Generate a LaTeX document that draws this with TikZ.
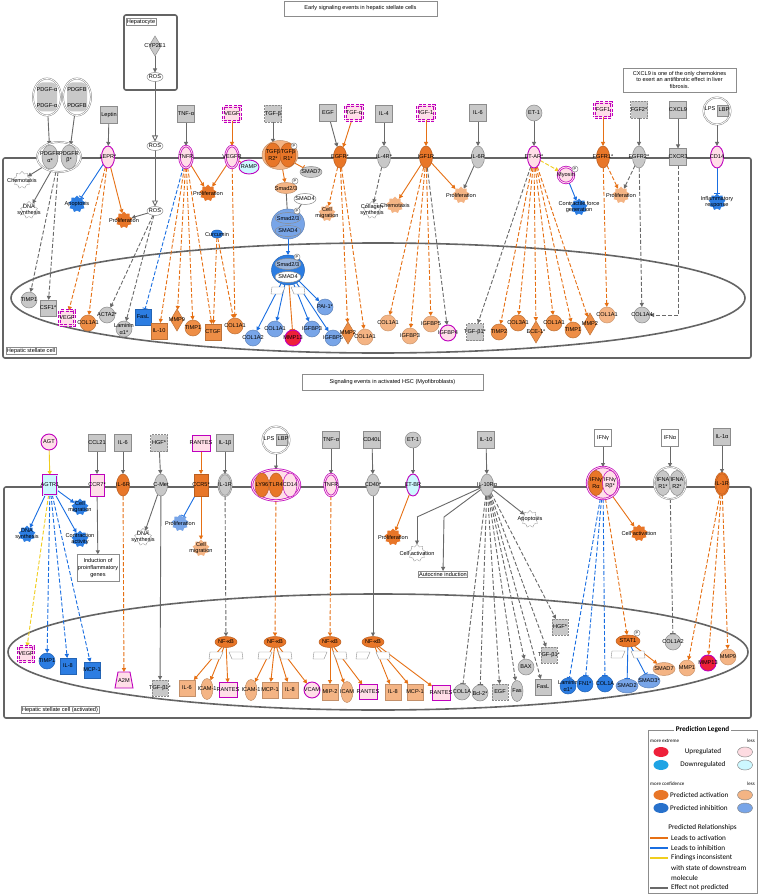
\documentclass[tikz,border=0pt]{standalone}
\usepackage{fontspec}
\setmainfont{Liberation Sans}
\newfontfamily\legf{Carlito}
\usetikzlibrary{shapes.geometric,arrows.meta}
\definecolor{grayF}{RGB}{200,200,200}
\definecolor{grayD}{RGB}{140,140,140}
\definecolor{orD}{RGB}{232,118,40}
\definecolor{orM}{RGB}{238,142,70}
\definecolor{orL}{RGB}{244,180,132}
\definecolor{blD}{RGB}{44,125,226}
\definecolor{blL}{RGB}{120,165,232}
\definecolor{redU}{RGB}{238,32,58}
\definecolor{mag}{RGB}{190,0,190}
\definecolor{pinkF}{RGB}{255,222,232}
\definecolor{cyanF}{RGB}{205,248,255}
\definecolor{eOr}{RGB}{230,112,20}
\definecolor{eBl}{RGB}{25,110,225}
\definecolor{eYe}{RGB}{240,205,30}
\definecolor{eGr}{RGB}{105,105,105}
\definecolor{memb}{RGB}{100,100,100}
\pgfdeclarelayer{bg}\pgfdeclarelayer{edges}\pgfsetlayers{bg,edges,main}
\newcommand\mynd[4]{\node[#1] (#2) at (#3) {}; \node[lbl] at (#2.center) {#4};}
\newcommand\pbadge[1]{\node[pbd] at (#1) {P};}
\newcommand\txfan[1]{\begin{scope}[shift={(#1)}]\draw[fanst] (-16,-3) -- (-3,-3) -- (-6,4) -- (-17,4) -- cycle; \draw[fanst] (16,-3) -- (3,-3) -- (6,4) -- (17,4) -- cycle;\end{scope}}
\tikzset{
 lbl/.style={font=\fontsize{5.6}{6.2}\selectfont, inner sep=0pt, align=center, text=black},
 sh/.style={inner sep=0pt, outer sep=0pt, line width=0.5pt},
 gs/.style={sh, rectangle, draw=grayD, fill=grayF, minimum width=17, minimum height=17},
 gsd/.style={gs, dash pattern=on 2pt off 1pt},
 ws/.style={gs, fill=white},
 ms/.style={sh, rectangle, draw=mag, fill=pinkF, line width=0.9pt, minimum width=17, minimum height=15},
 msd/.style={ms, dash pattern=on 3pt off 1.5pt, double=pinkF, double distance=1pt, line width=0.6pt},
 rc/.style={sh, ellipse, minimum width=13, minimum height=22},
 rg/.style={rc, draw=grayD, fill=grayF},
 rgg/.style={rg, double=grayF, double distance=0.8pt},
 ro/.style={rc, draw=orD!80!black, fill=orD},
 roo/.style={ro, double=orD, double distance=0.8pt},
 rm/.style={rc, draw=mag, fill=pinkF, line width=0.9pt},
 rmm/.style={rc, draw=mag, fill=pinkF, line width=0.7pt, double=pinkF, double distance=0.9pt},
 rmc/.style={rm, fill=cyanF},
 ci/.style={sh, circle, minimum size=16},
 cg/.style={ci, draw=grayD, fill=grayF},
 co/.style={ci, draw=orM!80!black, fill=orM},
 cl/.style={ci, draw=orL!85!black, fill=orL},
 cb/.style={ci, draw=blD!80!black, fill=blD},
 cbl/.style={ci, draw=blL!80!black, fill=blL},
 cr/.style={ci, draw=mag, line width=0.9pt, fill=redU},
 cmg/.style={ci, draw=mag, line width=0.9pt, fill=pinkF},
 cmm/.style={cmg, double=pinkF, double distance=0.9pt, line width=0.7pt},
 sq/.style={sh, rectangle, minimum size=16},
 sqo/.style={sq, draw=orM!80!black, fill=orM},
 sqol/.style={sq, draw=orL!80!black, fill=orL},
 sqb/.style={sq, draw=blD!80!black, fill=blD},
 dio/.style={sh, diamond, minimum width=13, minimum height=22, draw=orM!80!black, fill=orM},
 dg/.style={sh, diamond, minimum width=12, minimum height=20, draw=grayD, fill=grayF},
 el/.style={sh, ellipse, minimum width=22, minimum height=11},
 eg/.style={el, draw=grayD, fill=grayF},
 ew/.style={el, draw=grayD, fill=white},
 eo/.style={el, draw=orD!80!black, fill=orD},
 eol/.style={el, draw=orL!80!black, fill=orL},
 ebl/.style={el, draw=blL!80!black, fill=blL},
 gr/.style={sh, star, star points=9, star point ratio=1.3, minimum size=17},
 gw/.style={gr, draw=grayD, fill=white, dash pattern=on 1pt off 0.6pt},
 gb/.style={gr, fill=blD},
 gbl/.style={gr, fill=blL},
 go/.style={gr, fill=orD},
 gol/.style={gr, fill=orL},
 pbd/.style={sh, circle, draw=grayD, fill=white, minimum size=6, font=\fontsize{4}{4}\selectfont},
 boxl/.style={draw=grayD, fill=white, line width=0.4pt, inner sep=1.5pt, font=\fontsize{5.6}{6.6}\selectfont, align=center},
 membr/.style={draw=memb, line width=1.6pt},
 fanst/.style={draw=grayD, line width=0.4pt, fill=white},
 tipA/.style={-{Triangle[length=4pt,width=4pt]}},
 tipI/.style={-{Bar[width=5.5pt]}},
 lnk/.style={line width=0.9pt},
 dsh/.style={dash pattern=on 4pt off 2pt},
 oa/.style={lnk, eOr, tipA}, oad/.style={oa, dsh}, oi/.style={lnk, eOr, tipI},
 ba/.style={lnk, eBl, tipA}, bad/.style={ba, dsh}, bi/.style={lnk, eBl, tipI}, bid/.style={bi, dsh},
 ga/.style={lnk, eGr, tipA}, gad/.style={ga, dsh}, gi/.style={lnk, eGr, tipI}, gid/.style={gi, dsh},
 ya/.style={lnk, eYe, tipA}, yad/.style={ya, dsh},
 gl/.style={lnk, eGr},
 legt/.style={font=\legf\fontsize{7.2}{8}\selectfont, inner sep=0pt},
 legs/.style={font=\legf\fontsize{5}{6}\selectfont, inner sep=0pt},
}
\begin{document}
\begin{tikzpicture}[x=1pt,y=-1pt]
\useasboundingbox (0,0) rectangle (760,896);
\begin{pgfonlayer}{bg}
\fill[white] (0,0) rectangle (760,896);
\draw[membr, rounded corners=2pt] (3,158) rectangle (751,358);
\draw[membr] (378,298) ellipse [x radius=367pt, y radius=55pt];
\draw[membr, rounded corners=2pt] (124,15) rectangle (177,90);
\draw[membr, rounded corners=2pt] (4,487) rectangle (751,718);
\draw[membr] (378,652) ellipse [x radius=370pt, y radius=58pt];
\end{pgfonlayer}
% ---------- titles and notes
\node[boxl, minimum width=153, minimum height=15] (t1) at (360.5,8.5) {Early signaling events in hepatic stellate cells};
\node[boxl, minimum width=181, minimum height=16] (t2) at (392.5,382.5) {Signaling events in activated HSC (Myofibroblasts)};
\node[boxl, minimum width=113, minimum height=24, font=\fontsize{5.6}{6.4}\selectfont] (note) at (679.5,80) {CXCL9 is one of the only chemokines\\to exert an antifibrotic effect in liver\\fibrosis.};
\node[boxl, inner sep=1pt] (hepl) at (141,22) {Hepatocyte};
\node[boxl, inner sep=1pt] (hscl) at (31,351) {Hepatic stellate cell};
\node[boxl, inner sep=1pt] (hscl2) at (60,710) {Hepatic stellate cell (activated)};
% ---------- top panel: ligands
\mynd{dg}{cyp}{155,46}{CYP2E1}
\mynd{ew, minimum width=16, minimum height=9}{rosA}{155,77}{ROS}
\mynd{ew, minimum width=16, minimum height=9}{rosB}{155,146}{ROS}
\mynd{ew, minimum width=16, minimum height=9}{rosC}{155,211}{ROS}
\node[sh, ellipse, draw=grayD, double=white, double distance=0.8pt, fill=white, minimum width=28, minimum height=37] (pdgfa) at (47,97) {};
\node[sh, rectangle, rounded corners=5pt, fill=grayF, minimum width=20, minimum height=29] (pdgfai) at (47,97) {};
\node[lbl] at (47,90) {PDGF-α}; \node[lbl] at (47,106) {PDGF-α};
\node[sh, ellipse, draw=grayD, double=white, double distance=0.8pt, fill=white, minimum width=28, minimum height=37] (pdgfb) at (77,97) {};
\node[sh, rectangle, rounded corners=5pt, fill=grayF, minimum width=20, minimum height=29] (pdgfbi) at (77,97) {};
\node[lbl] at (77,90) {PDGFB}; \node[lbl] at (77,106) {PDGFB};
\mynd{gs}{leptin}{109,115}{Leptin}
\mynd{gs}{tnfa}{186,114}{TNF-α}
\mynd{msd}{vegf}{232,114}{VEGF}
\mynd{gsd}{tgfb}{273,114}{TGF-β}
\mynd{gs}{egf}{328,113}{EGF}
\mynd{msd}{tgfa}{354,113}{TGF-α}
\mynd{gs}{il4}{384,114}{IL-4}
\mynd{msd}{igf1}{426,113}{IGF-1}
\mynd{gs}{il6}{478,113}{IL-6}
\mynd{cg}{et1}{534,113}{ET-1}
\mynd{msd}{fgf1}{603,110}{FGF1}
\mynd{gsd}{fgf2}{639,110}{FGF2*}
\mynd{gs}{cxcl9}{678,110}{CXCL9}
\node[sh, circle, draw=grayD, double=white, double distance=0.8pt, fill=white, minimum size=27] (lps1) at (717,111) {};
\node[sh, rectangle, draw=grayD, fill=grayF, minimum size=11] (lbp1) at (723,111) {};
\node[lbl] at (710,109) {LPS}; \node[lbl] at (724,110) {LBP};
% ---------- top panel: membrane
\node[sh, ellipse, draw=grayD, double=white, double distance=0.8pt, fill=white, minimum width=44, minimum height=30] (pdgfr) at (59,157) {};
\mynd{rg, minimum width=16, minimum height=24}{pdgfra}{50,157}{PDGFR\\α*}
\mynd{rg, minimum width=16, minimum height=24}{pdgfrb}{69,157}{PDGFR\\β*}
\mynd{rm}{lepr}{108,157}{LEPR*}
\mynd{rmm}{tnfr}{186,157}{TNFR}
\mynd{rmm}{vegfr}{232,157}{VEGFR}
\mynd{rmc, minimum width=20, minimum height=14}{ramp}{249,167}{RAMP}
\node[sh, ellipse, fill=orL, draw=orL!80!black, minimum width=36, minimum height=29] (tgfbr) at (280,155) {};
\mynd{ro, minimum width=16, minimum height=24}{tgfbr2}{273,155}{TGFβ\\R2*}
\mynd{ro, minimum width=16, minimum height=24}{tgfbr1}{288,155}{TGFβ\\R1*}
\pbadge{294,146}
\mynd{eg}{smad7a}{311,172}{SMAD7}
\mynd{eol}{smad23a}{286,188}{Smad2/3}
\pbadge{295,181}
\mynd{ew}{smad4a}{305,199}{SMAD4}
\mynd{ro}{egfr}{340,157}{EGFR*}
\mynd{rg}{il4r}{384,157}{IL-4R*}
\mynd{ro}{igf1r}{426,157}{IGF1R}
\mynd{rg}{il6r}{478,157}{IL-6R}
\mynd{rm}{etar}{534,157}{ET-AR*}
\mynd{cmm}{myosin}{566,175}{Myosin}
\pbadge{575,169}
\mynd{ro}{fgfr1}{603,157}{FGFR1*}
\mynd{rg}{fgfr2}{639,157}{FGFR2*}
\mynd{gs}{cxcr3}{678,157}{CXCR3}
\mynd{rm}{cd14}{717,157}{CD14}
% ---------- top panel: cytoplasm
\mynd{gw}{chemo1}{22,180}{Chemotaxis}
\mynd{gw}{dna1}{29,210}{DNA\\synthesis}
\mynd{gb}{apop1}{77,204}{Apoptosis}
\mynd{go}{prol1}{124,220}{Proliferation}
\mynd{go}{prol2}{208,193}{Proliferation}
\mynd{gol}{cmig1}{327,213}{Cell\\migration}
\mynd{gw}{coll1}{372,210}{Collagen\\synthesis}
\mynd{gol}{chemo2}{395,205}{Chemotaxis}
\mynd{gol}{prol3}{461,195}{Proliferation}
\mynd{gb}{contr}{579,207}{Contractile force\\generation}
\mynd{gol}{prol4}{621,195}{Proliferation}
\mynd{gb}{inflam}{717,202}{Inflammatory\\response}
\mynd{sh, ellipse, fill=blD, draw=blD!80!black, minimum width=12, minimum height=8}{curc}{217,234}{Curcumin}
\node[sh, ellipse, fill=blL, draw=blL!80!black, minimum width=33, minimum height=30] (smadc) at (288,224) {};
\mynd{ebl, draw=grayD, minimum width=26}{smadc1}{288,218}{Smad2/3}
\mynd{ebl, draw=grayD, minimum width=26}{smadc2}{288,231}{SMAD4}
\pbadge{297,211}
% ---------- top panel: nucleus
\node[sh, ellipse, fill=blD, draw=blD!80!black, minimum width=33, minimum height=30] (smadn) at (288,270) {};
\mynd{eg, fill=blL!60!grayF, minimum width=26}{smadn1}{288,264}{Smad2/3}
\mynd{ew, minimum width=26}{smadn2}{288,277}{SMAD4}
\pbadge{297,257}
\txfan{288,290}
\mynd{cg}{timp1a}{29,300}{TIMP1}
\mynd{gs, minimum size=16}{csf1}{48,308}{CSF1*}
\mynd{msd, minimum width=15}{vegf2}{67,318}{VEGF}
\mynd{co}{col1a1a}{88,323}{COL1A1}
\mynd{cg}{acta2}{107,315}{ACTA2*}
\mynd{cg}{lam1}{124,329}{Laminin\\α1*}
\mynd{sqb}{fasl1}{143,317}{FasL}
\mynd{sqo}{il10a}{159,331}{IL-10}
\mynd{dio}{mmp9a}{177,320}{MMP9}
\mynd{co}{timp1b}{193,328}{TIMP1}
\mynd{sqo}{ctgf}{213,332}{CTGF}
\mynd{co}{col1a1b}{235,326}{COL1A1}
\mynd{cbl}{col1a2a}{253,338}{COL1A2}
\mynd{cbl}{col1a1c}{275,329}{COL1A1}
\mynd{cr}{mmp13a}{293,338}{MMP13}
\mynd{cbl}{igfbp3a}{312,329}{IGFBP3}
\mynd{cbl}{igfbp5a}{333,338}{IGFBP5}
\mynd{cbl}{pai1}{325,307}{PAI-1*}
\mynd{dio}{mmp2a}{348,333}{MMP2}
\mynd{cl}{col1a1d}{365,337}{COL1A1}
\mynd{cl}{col1a1e}{388,323}{COL1A1}
\mynd{cl}{igfbp3b}{410,336}{IGFBP3}
\mynd{cl}{igfbp5b}{431,324}{IGFBP5}
\mynd{cmg}{igfbp4}{448,333}{IGFBP4}
\mynd{gsd}{tgfb1a}{475,332}{TGF-β1*}
\mynd{co}{timp2}{499,332}{TIMP2}
\mynd{co}{col3a1}{518,323}{COL3A1}
\mynd{dio}{ece1}{536,332}{ECE-1*}
\mynd{co}{col1a1f}{554,323}{COL1A1}
\mynd{co}{timp1c}{573,330}{TIMP1}
\mynd{dio}{mmp2b}{590,324}{MMP2}
\mynd{cl}{col1a1g}{607,315}{COL1A1}
\mynd{cg}{col1a4}{642,315}{COL1A4}
% ---------- bottom panel: ligands
\mynd{cmg}{agt}{49,442}{AGT}
\mynd{gs}{ccl21}{97,443}{CCL21}
\mynd{gs}{il6b}{123,443}{IL-6}
\mynd{gsd}{hgf}{159,443}{HGF*}
\mynd{ms, minimum width=18, minimum height=16}{rantes}{201,443}{RANTES}
\mynd{gs}{il1b}{225,443}{IL-1β}
\node[sh, circle, draw=grayD, double=white, double distance=0.8pt, fill=white, minimum size=27] (lps2) at (276,440) {};
\node[sh, rectangle, draw=grayD, fill=grayF, minimum size=11] (lbp2) at (282,440) {};
\node[lbl] at (269,439) {LPS}; \node[lbl] at (283,439) {LBP};
\mynd{gs}{tnfab}{331,440}{TNF-α}
\mynd{gs}{cd40l}{372,440}{CD40L}
\mynd{cg}{et1b}{413,440}{ET-1}
\mynd{gs}{il10}{486,440}{IL-10}
\mynd{ws}{ifng}{603,438}{IFNγ}
\mynd{ws}{ifna}{670,438}{IFNα}
\mynd{gs}{il1a}{722,437}{IL-1α}
% ---------- bottom panel: membrane
\mynd{ms, fill=cyanF, minimum width=14, minimum height=20, double=cyanF, double distance=0.8pt, line width=0.7pt}{agtr1}{50,485}{AGTR1}
\mynd{ms, minimum width=14, minimum height=22}{ccr7}{97,485}{CCR7*}
\mynd{ro}{il6r2}{123,485}{IL-6R}
\mynd{rg}{cmet}{161,485}{C-Met}
\mynd{sh, rectangle, fill=orD, draw=orD!80!black, minimum width=14, minimum height=22}{ccr5}{201,485}{CCR5*}
\mynd{rgg}{il1r}{225,485}{IL-1R}
\node[sh, ellipse, draw=mag, double=pinkF, double distance=0.9pt, line width=0.7pt, fill=pinkF, minimum width=48, minimum height=31] (tlr) at (276,485) {};
\mynd{ro, minimum width=14, minimum height=24}{ly96}{262,485}{LY96}
\mynd{ro, minimum width=14, minimum height=24}{tlr4}{276,485}{TLR4}
\mynd{rm, line width=0.5pt, minimum width=14, minimum height=24}{cd14b}{290,485}{CD14}
\mynd{rmm}{tnfr2}{331,485}{TNFR}
\mynd{rg}{cd40}{373,485}{CD40*}
\mynd{rmc}{etbr}{413,485}{ET-BR}
\mynd{rg}{il10r}{487,485}{IL-10Rα}
\node[sh, circle, draw=mag, double=pinkF, double distance=0.9pt, line width=0.7pt, fill=pinkF, minimum size=32] (ifngr) at (603,483) {};
\mynd{ro, minimum width=15, minimum height=25}{ifngra}{596,483}{IFNγ\\Rα}
\mynd{rm, line width=0.5pt, minimum width=15, minimum height=25}{ifngrb}{610,483}{IFNγ\\Rβ*}
\node[sh, circle, draw=grayD, double=white, double distance=0.8pt, fill=white, minimum size=32] (ifnar) at (670,483) {};
\mynd{rg, minimum width=15, minimum height=25}{ifnar1}{663,483}{IFNA\\R1*}
\mynd{rg, minimum width=15, minimum height=25}{ifnar2}{677,483}{IFNA\\R2*}
\mynd{roo}{il1r2}{722,484}{IL-1R}
% ---------- bottom panel: cytoplasm
\mynd{gb}{dna2}{27,534}{DNA\\synthesis}
\mynd{gb}{cmig2}{80,507}{Cell\\migration}
\mynd{gb}{contr2}{80,539}{Contraction\\activity}
\node[boxl, minimum width=42, minimum height=27, inner sep=0.5pt] (induct) at (98,568) {Induction of\\proinflammatory\\genes};
\mynd{gw}{dna3}{143,537}{DNA\\synthesis}
\mynd{gbl}{prol5}{180,523}{Proliferation}
\mynd{gol}{cmig3}{201,548}{Cell\\migration}
\mynd{go}{prol6}{393,537}{Proliferation}
\mynd{gw}{cact1}{417,553}{Cell activation}
\node[boxl, inner sep=0.8pt] (autoc) at (443,574) {Autocrine induction};
\mynd{gw}{apop2}{530,519}{Apoptosis}
\mynd{go}{cact2}{639,533}{Cell activation}
% ---------- bottom panel: nucleus
\mynd{msd, minimum width=15}{vegf3}{26,654}{VEGF}
\mynd{cb}{timp1d}{47,661}{TIMP1}
\mynd{sqb}{il8a}{68,666}{IL-8}
\mynd{sqb}{mcp1a}{92,670}{MCP-1}
\draw[mag, fill=pinkF, line width=0.9pt] (118,672) -- (130,672) -- (133,688) -- (115,688) -- cycle;
\node[sh, minimum size=16] (a2m) at (124,680) {};
\node[lbl] at (124,681) {A2M};
\mynd{gsd, minimum size=16}{tgfb1b}{160,688}{TGF-β1*}
\mynd{eo}{nfkb1}{226,642}{NF-κB}
\mynd{eo}{nfkb2}{275,642}{NF-κB}
\mynd{eo}{nfkb3}{330,642}{NF-κB}
\mynd{eo}{nfkb4}{373,642}{NF-κB}
\txfan{226,655}
\txfan{275,655}
\txfan{330,655}
\txfan{373,655}
\mynd{sqol}{il6c}{187,688}{IL-6}
\mynd{eol, minimum width=12, minimum height=21}{icam1a}{207,689}{ICAM-1}
\mynd{ms, minimum width=18, minimum height=15}{rantes1}{228,690}{RANTES}
\mynd{eol, minimum width=12, minimum height=21}{icam1b}{251,690}{ICAM-1}
\mynd{sqol}{mcp1b}{270,690}{MCP-1}
\mynd{sqol}{il8b}{290,690}{IL-8}
\mynd{cmg}{vcam}{312,690}{VCAM}
\mynd{sqol}{mip2}{330,692}{MIP-2}
\mynd{eol, minimum width=12, minimum height=21}{icam1c}{347,692}{ICAM}
\mynd{ms, minimum width=18, minimum height=15}{rantes2}{368,692}{RANTES}
\mynd{sqol}{il8c}{393,692}{IL-8}
\mynd{sqol}{mcp1c}{415,692}{MCP-1}
\mynd{ms, minimum width=18, minimum height=15}{rantes3}{441,693}{RANTES}
\mynd{cg}{col1ah}{462,692}{COL1A}
\mynd{cg}{bcl2}{480,693}{Bcl-2*}
\mynd{gsd, minimum size=16}{egf2}{500,692}{EGF}
\mynd{eg, minimum width=12, minimum height=21}{fas}{517,691}{Fas}
\mynd{cg}{bax}{526,667}{BAX}
\mynd{gsd, minimum size=16}{tgfb1c}{549,655}{TGF-β1*}
\mynd{gsd, minimum size=16}{hgf2}{560,627}{HGF*}
\mynd{gs, minimum size=16}{fasl2}{543,687}{FasL}
\mynd{cb}{lam2}{568,686}{Laminin\\α1*}
\mynd{cb}{fn1}{585,684}{FN1*}
\mynd{cb}{col1ai}{605,684}{COL1A}
\mynd{ebl, minimum height=14}{smad2}{627,686}{SMAD2}
\mynd{ebl, minimum height=14}{smad3}{649,681}{SMAD3*}
\mynd{eo, minimum width=24, minimum height=12}{stat1}{628,641}{STAT1}
\pbadge{637,633}
\txfan{628,654}
\mynd{cg}{col1a2b}{673,642}{COL1A2}
\mynd{eol, minimum height=13}{smad7b}{664,669}{SMAD7}
\mynd{cl}{mmp1}{687,668}{MMP1}
\mynd{cr}{mmp13b}{708,663}{MMP13}
\mynd{cl}{mmp9b}{728,657}{MMP9}
% ---------- connectors
\begin{pgfonlayer}{edges}
% top ligands
\draw[ga] (cyp) -- (rosA);
\draw[lnk, eGr, -{Triangle[open,length=6pt,width=6pt]}] (rosA) -- (rosB);
\draw[lnk, eGr, -{Triangle[open,length=6pt,width=6pt]}] (rosB) -- (rosC);
\draw[ga] (pdgfa) -- (pdgfra);
\draw[ga] (pdgfb) -- (pdgfrb);
\draw[ga] (leptin) -- (lepr);
\draw[ga] (tnfa) -- (tnfr);
\draw[oa] (vegf) -- (vegfr);
\draw[ga] (tgfb) -- (tgfbr2);
\draw[ga] (egf) -- (egfr);
\draw[oa] (tgfa) -- (egfr);
\draw[ga] (il4) -- (il4r);
\draw[oa] (igf1) -- (igf1r);
\draw[ga] (il6) -- (il6r);
\draw[ga] (et1) -- (etar);
\draw[oa] (fgf1) -- (fgfr1);
\draw[ga] (fgf2) -- (fgfr2);
\draw[ga] (cxcl9) -- (cxcr3);
\draw[ga] (lps1) -- (cd14);
% top cytoplasm / nucleus
\draw[ga] (pdgfr) -- (chemo1);
\draw[ga] (pdgfr) -- (dna1);
\foreach \t in {timp1a,csf1} \draw[gad] (pdgfr) -- (\t);
\draw[bi] (lepr) -- (apop1);
\draw[oa] (lepr) -- (prol1);
\foreach \t in {vegf2,col1a1a} \draw[oad] (lepr) -- (\t);
\draw[ga] (rosC) -- (prol1);
\foreach \t in {acta2,lam1} \draw[gad] (rosC) -- (\t);
\draw[bid] (tnfr) -- (fasl1);
\foreach \t in {il10a,mmp9a,timp1b,ctgf} \draw[oad] (tnfr) -- (\t);
\draw[oa] (tnfr) -- (prol2);
\draw[oa] (vegfr) -- (prol2);
\draw[oad] (vegfr) -- (col1a1b);
\draw[lnk, eOr] (vegfr) -- (ramp);
\draw[oi] (tgfbr) -- (smad7a);
\draw[oa] (tgfbr) -- (smad23a);
\draw[gl] (smad23a) -- (smadc);
\draw[gl] (smad4a) -- (smadc);
\draw[ba] (smadc) -- (smadn);
\foreach \t in {col1a2a,col1a1c,igfbp3a,igfbp5a,pai1} \draw[ba] (smadn) -- (\t);
\draw[oi] (smadn) -- (mmp13a);
\draw[oad] (curc) -- (ctgf);
\draw[oad] (curc) -- (col1a1b);
\draw[oad] (egfr) -- (cmig1);
\foreach \t in {mmp2a,col1a1d} \draw[oad] (egfr) -- (\t);
\draw[gad] (il4r) -- (coll1);
\draw[oa] (igf1r) -- (chemo2);
\draw[oa] (igf1r) -- (prol3);
\foreach \t in {col1a1e,igfbp3b,igfbp5b} \draw[oad] (igf1r) -- (\t);
\draw[gad] (igf1r) -- (igfbp4);
\draw[ga] (il6r) -- (prol3);
\draw[yad] (etar) -- (myosin);
\draw[gad] (etar) -- (tgfb1a);
\foreach \t in {timp2,col3a1,ece1,col1a1f,timp1c,mmp2b} \draw[oad] (etar) -- (\t);
\draw[ba] (myosin) -- (contr);
\draw[oad] (fgfr1) -- (prol4);
\draw[oad] (fgfr1) -- (col1a1g);
\draw[gad] (fgfr2) -- (prol4);
\draw[gad] (fgfr2) -- (col1a4);
\draw[gad] (cxcr3) |- (col1a4);
\draw[bi] (cd14) -- (inflam);
% bottom ligands
\draw[ya] (agt) -- (agtr1);
\draw[ga] (ccl21) -- (ccr7);
\draw[ga] (il6b) -- (il6r2);
\draw[ga] (hgf) -- (cmet);
\draw[oa] (rantes) -- (ccr5);
\draw[ga] (il1b) -- (il1r);
\draw[ga] (lps2) -- (tlr);
\draw[ga] (tnfab) -- (tnfr2);
\draw[ga] (cd40l) -- (cd40);
\draw[ga] (et1b) -- (etbr);
\draw[ga] (il10) -- (il10r);
\draw[ga] (ifng) -- (ifngr);
\draw[ga] (ifna) -- (ifnar);
\draw[ga] (il1a) -- (il1r2);
% bottom cytoplasm / nucleus
\foreach \t in {dna2,cmig2,contr2} \draw[ba] (agtr1) -- (\t);
\draw[yad] (agtr1) -- (vegf3);
\foreach \t in {timp1d,il8a,mcp1a} \draw[bad] (agtr1) -- (\t);
\draw[ga] (ccr7) -- (induct);
\draw[oad] (il6r2) -- (a2m);
\draw[ga] (cmet) -- (dna3);
\draw[ga] (cmet) -- (tgfb1b);
\draw[bi] (ccr5) -- (prol5);
\draw[oa] (ccr5) -- (cmig3);
\draw[gad] (il1r) -- (nfkb1);
\draw[oad] (tlr) -- (nfkb2);
\draw[oad] (tnfr2) -- (nfkb3);
\draw[ga] (cd40) -- (nfkb4);
\foreach \t in {il6c,icam1a,rantes1} \draw[oa] (nfkb1) -- (\t);
\foreach \t in {icam1b,mcp1b,il8b,vcam} \draw[oa] (nfkb2) -- (\t);
\foreach \t in {mip2,icam1c,rantes2} \draw[oa] (nfkb3) -- (\t);
\foreach \t in {il8c,mcp1c,rantes3} \draw[oa] (nfkb4) -- (\t);
\draw[oa] (etbr) -- (prol6);
\draw[gl] (il10r) -- (417,517);
\draw[ga] (417,517) -- (cact1);
\draw[gl] (il10r) -- (444,517);
\draw[ga] (444,517) -- (autoc);
\draw[ga] (il10r) -- (apop2);
\foreach \t in {hgf2,tgfb1c,bax,fasl2,fas,egf2} \draw[gad] (il10r) -- (\t);
\foreach \t in {bcl2,col1ah} \draw[gid] (il10r) -- (\t);
\draw[oa] (ifngr) -- (cact2);
\draw[oad] (ifngr) -- (stat1);
\foreach \t in {lam2,fn1,col1ai} \draw[bid] (ifngr) -- (\t);
\draw[oa] (stat1) -- (smad7b);
\draw[bi] (stat1) -- (smad2);
\draw[bi] (stat1) -- (smad3);
\draw[gid] (ifnar) -- (col1a2b);
\foreach \t in {mmp1,mmp13b,mmp9b} \draw[oad] (il1r2) -- (\t);
\end{pgfonlayer}
% ---------- legend
\draw[grayD, line width=0.5pt] (648,730) rectangle (757,893);
\node[legt, fill=white, inner xsep=1.5pt, font=\legf\bfseries\fontsize{7.2}{8}\selectfont] (lgt) at (702.5,730) {Prediction Legend};
\node[legs, anchor=west] (lg1) at (650,741) {more extreme};
\node[legs, anchor=east] (lg2) at (755,741) {less};
\node[sh, ellipse, fill=redU, minimum width=15, minimum height=10] (lgu1) at (661,752) {};
\node[legt] (lgu) at (703,752) {Upregulated};
\node[sh, ellipse, fill=pinkF!70!redU!40, draw=grayD, minimum width=15, minimum height=10] (lgu2) at (745,752) {};
\node[sh, ellipse, fill=cyan!85!blue!90, minimum width=15, minimum height=10] (lgd1) at (661,765) {};
\node[legt] (lgd) at (703,765) {Downregulated};
\node[sh, ellipse, fill=cyanF, draw=grayD, minimum width=15, minimum height=10] (lgd2) at (745,765) {};
\node[legs, anchor=west] (lg3) at (650,784) {more confidence};
\node[legs, anchor=east] (lg4) at (755,784) {less};
\node[sh, ellipse, fill=orD, minimum width=15, minimum height=10] (lga1) at (661,795) {};
\node[legt, anchor=west] (lga) at (670,795) {Predicted activation};
\node[sh, ellipse, fill=orL, draw=grayD, minimum width=15, minimum height=10] (lga2) at (745,795) {};
\node[sh, ellipse, fill=blD!90!black, minimum width=15, minimum height=10] (lgi1) at (661,808) {};
\node[legt, anchor=west] (lgi) at (670,808) {Predicted inhibition};
\node[sh, ellipse, fill=blL, draw=grayD, minimum width=15, minimum height=10] (lgi2) at (745,808) {};
\node[legt] (lgr) at (702.5,828) {Predicted Relationships};
\coordinate (la0) at (650,838); \coordinate (la1) at (668,838);
\coordinate (lb0) at (650,848); \coordinate (lb1) at (668,848);
\coordinate (lc0) at (650,858); \coordinate (lc1) at (668,858);
\coordinate (ld0) at (650,888); \coordinate (ld1) at (668,888);
\draw[eOr, line width=1.2pt] (la0) -- (la1);
\draw[eBl, line width=1.2pt] (lb0) -- (lb1);
\draw[eYe, line width=1.2pt] (lc0) -- (lc1);
\draw[eGr, line width=1.2pt] (ld0) -- (ld1);
\node[legt, anchor=west] at (671,838) {Leads to activation};
\node[legt, anchor=west] at (671,848) {Leads to inhibition};
\node[legt, anchor=west] at (671,858) {Findings inconsistent};
\node[legt, anchor=west] at (671,868) {with state of downstream};
\node[legt, anchor=west] at (671,878) {molecule};
\node[legt, anchor=west] at (671,888) {Effect not predicted};
\end{tikzpicture}
\end{document}
